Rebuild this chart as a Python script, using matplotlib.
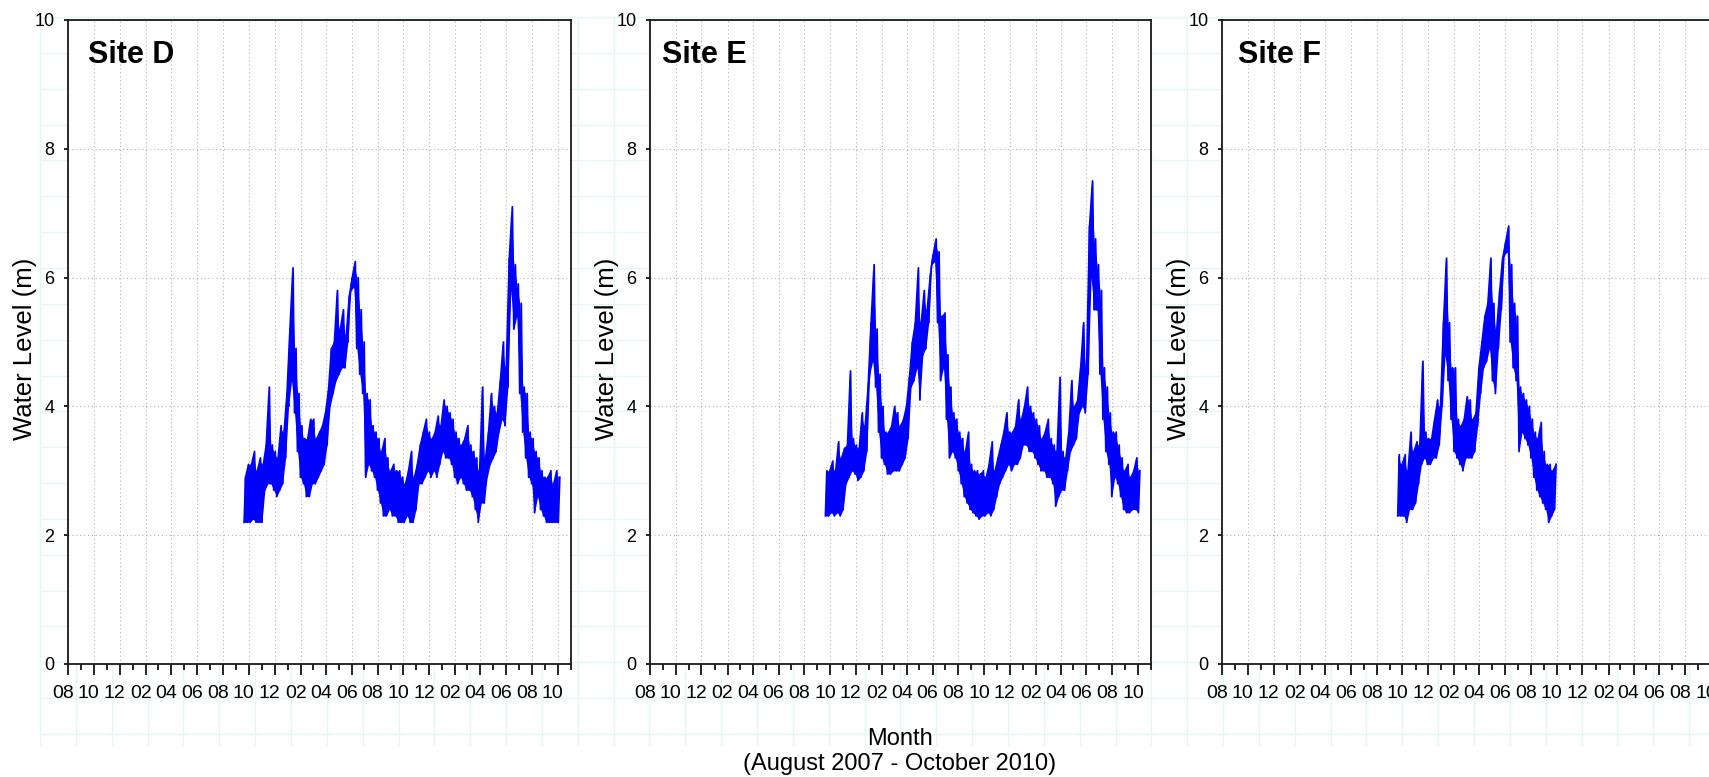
import numpy as np
import matplotlib
matplotlib.use("Agg")
import matplotlib.pyplot as plt
import matplotlib.dates as mdates
from matplotlib.lines import Line2D
from matplotlib.transforms import ScaledTranslation

plt.rcParams['font.family'] = ['Liberation Sans', 'DejaVu Sans']

# ---------------------------------------------------------------------------
# Data: weekly low / high water level (m) from the loggers, weeks start 2008-09-20
# ---------------------------------------------------------------------------
sites = ["Site D", "Site E", "Site F"]
series_start = np.datetime64("2008-09-20T00")

site_d_low = [2.2, 2.2, 2.2, 2.25, 2.2, 2.2, 2.2, 2.7, 2.8, 2.8,
              2.7, 2.6, 2.7, 2.8, 3.2, 4.0, 4.4, 3.9, 3.3, 2.9,
              2.8, 2.6, 2.6, 2.8, 2.8, 2.9, 3.0, 3.1, 3.4, 4.0,
              4.2, 4.4, 4.5, 4.6, 4.6, 5.0, 5.8, 5.85, 4.9, 4.5,
              4.2, 2.9, 3.1, 3.0, 2.9, 2.7, 2.5, 2.3, 2.3, 2.4,
              2.3, 2.3, 2.2, 2.2, 2.2, 2.3, 2.2, 2.2, 2.4, 2.8,
              2.8, 2.9, 3.0, 2.9, 3.0, 2.9, 3.1, 3.3, 3.2, 3.2,
              3.1, 2.9, 2.8, 2.9, 2.8, 2.7, 2.7, 2.6, 2.4, 2.2,
              2.5, 2.5, 2.9, 3.1, 3.2, 3.3, 3.6, 3.8, 3.7, 4.3,
              5.8, 5.2, 5.4, 4.2, 3.6, 3.2, 2.9, 2.8, 2.35, 2.6,
              2.4, 2.3, 2.2, 2.2, 2.2, 2.2, 2.2]
site_d_high = [2.9, 3.1, 3.1, 3.3, 3.0, 3.2, 3.1, 3.4, 4.3, 3.4,
               3.3, 3.2, 3.7, 3.6, 4.2, 5.2, 6.15, 4.9, 4.2, 3.7,
               3.5, 3.5, 3.8, 3.8, 3.5, 3.6, 3.7, 3.9, 4.25, 4.9,
               5.0, 5.8, 5.2, 5.5, 5.1, 5.7, 6.0, 6.25, 6.0, 5.5,
               5.0, 4.2, 4.1, 3.7, 3.6, 3.5, 3.3, 3.5, 3.2, 3.0,
               3.1, 3.0, 3.0, 2.9, 2.8, 3.0, 3.3, 2.9, 3.1, 3.4,
               3.6, 3.8, 3.6, 3.5, 3.6, 3.85, 3.7, 4.1, 4.0, 3.9,
               3.8, 3.6, 3.5, 3.4, 3.5, 3.7, 3.4, 3.3, 3.2, 3.0,
               4.3, 3.2, 3.6, 4.2, 4.0, 3.9, 4.4, 5.0, 4.6, 6.3,
               7.1, 6.2, 5.9, 5.6, 4.3, 4.2, 3.6, 3.5, 3.3, 3.2,
               3.0, 2.9, 2.9, 3.0, 2.8, 3.0, 2.9]

site_e_low = [2.3, 2.3, 2.35, 2.3, 2.35, 2.3, 2.4, 2.8, 2.9, 3.0,
              2.95, 2.85, 2.9, 3.0, 3.3, 4.5, 4.7, 4.3, 3.6, 3.2,
              3.1, 2.95, 2.95, 3.0, 3.0, 3.0, 3.1, 3.2, 3.5, 4.3,
              4.4, 4.6, 4.1, 4.8, 4.9, 5.3, 6.2, 6.25, 5.3, 4.4,
              4.6, 3.8, 3.2, 3.3, 3.2, 3.0, 2.8, 2.6, 2.5, 2.4,
              2.35, 2.3, 2.25, 2.3, 2.3, 2.35, 2.3, 2.4, 2.6, 2.8,
              2.9, 3.0, 3.1, 3.0, 3.1, 3.1, 3.2, 3.4, 3.4, 3.3,
              3.3, 3.2, 3.1, 3.0, 3.0, 2.9, 2.9, 2.8, 2.45, 2.6,
              2.7, 2.7, 3.0, 3.3, 3.4, 3.5, 3.9, 4.0, 3.9, 4.5,
              6.0, 5.5, 5.5, 4.5, 3.8, 3.3, 3.1, 2.6, 2.9, 2.8,
              2.6, 2.4, 2.35, 2.35, 2.4, 2.4, 2.35]
site_e_high = [3.0, 3.0, 3.15, 3.0, 3.45, 3.2, 3.35, 3.4, 4.55, 3.5,
               3.4, 3.35, 3.9, 3.7, 4.3, 5.3, 6.2, 5.2, 4.5, 4.0,
               3.6, 3.6, 3.7, 4.0, 3.9, 3.7, 3.8, 4.0, 4.45, 5.0,
               5.3, 6.15, 5.3, 5.8, 5.5, 6.0, 6.35, 6.6, 6.4, 5.4,
               5.45, 4.8, 4.3, 3.9, 3.8, 3.6, 3.5, 3.3, 3.6, 3.1,
               3.0, 3.0, 2.95, 3.0, 2.9, 3.1, 3.45, 3.0, 3.2, 3.4,
               3.6, 3.9, 3.6, 3.6, 3.7, 4.1, 3.8, 4.0, 4.3, 4.0,
               3.9, 3.8, 3.7, 3.5, 3.6, 3.8, 3.5, 3.4, 3.3, 4.45,
               3.3, 3.2, 3.6, 4.4, 4.0, 4.1, 4.6, 5.3, 4.6, 6.8,
               7.5, 6.6, 6.2, 5.8, 4.6, 4.3, 3.9, 3.6, 3.6, 3.4,
               3.2, 3.0, 3.1, 2.9, 3.0, 3.2, 3.0]

site_f_low = [2.3, 2.3, 2.3, 2.2, 2.4, 2.4, 2.5, 2.8, 3.1, 3.2,
              3.1, 3.1, 3.2, 3.2, 3.4, 4.0, 4.8, 4.4, 3.8, 3.3,
              3.2, 3.1, 3.0, 3.2, 3.2, 3.2, 3.3, 3.7, 4.2, 4.6,
              4.7, 4.9, 4.4, 4.2, 4.9, 5.5, 6.35, 6.4, 5.0, 4.6,
              4.4, 3.3, 3.6, 3.5, 3.4, 3.2, 2.9, 2.7, 2.6, 2.5,
              2.4, 2.2, 2.3, 2.4]
site_f_high = [3.25, 3.1, 3.25, 3.0, 3.6, 3.3, 3.45, 3.4, 4.7, 3.6,
               3.5, 3.5, 3.8, 4.1, 4.0, 5.3, 6.3, 5.3, 4.6, 4.6,
               3.8, 3.7, 3.8, 4.15, 4.1, 3.8, 3.9, 4.6, 5.0, 5.4,
               5.6, 6.3, 5.6, 5.2, 5.8, 6.3, 6.55, 6.8, 6.2, 5.6,
               5.4, 4.3, 4.2, 4.1, 4.0, 3.8, 3.6, 3.5, 3.75, 3.3,
               3.1, 3.1, 3.0, 3.1]

site_lows = [site_d_low, site_e_low, site_f_low]
site_highs = [site_d_high, site_e_high, site_f_high]

y_ticks = [0, 2, 4, 6, 8, 10]
x_start = np.datetime64("2007-08-01")
x_end = np.datetime64("2010-11-01")
y_label = "Water Level (m)"
x_label_lines = ["Month", "(August 2007 - October 2010)"]

# ---------------------------------------------------------------------------
W, H = 1709, 777
fig = plt.figure(figsize=(W / 100, H / 100), dpi=100)
fig.patch.set_facecolor("white")

# faint graph-paper background behind the panels
paper = "#e3f7f7"
step = 35.85
gx0, gy0, gy1 = 40, 17, 745
for i in range(60):
    x = gx0 + i * step
    if x > W:
        break
    fig.add_artist(Line2D([x / W, x / W], [1 - gy0 / H, 1 - gy1 / H],
                          transform=fig.transFigure, color=paper, lw=0.9, zorder=-5))
for j in range(30):
    y = gy0 + j * step
    if y > gy1:
        break
    fig.add_artist(Line2D([gx0 / W, 1.0], [1 - y / H, 1 - y / H],
                          transform=fig.transFigure, color=paper, lw=0.9, zorder=-5))

# panel placement in pixels: left, top, right, bottom
panel_px = [(68, 20, 571, 664), (650, 20, 1151, 664), (1222, 20, 1724, 664)]
title_dx = [20, 12, 16]
label_shift = ScaledTranslation(-5 / 100, 0, fig.dpi_scale_trans)
blue = "#0000ff"

for idx, (name, lo, hi) in enumerate(zip(sites, site_lows, site_highs)):
    l, t, r, b = panel_px[idx]
    ax = fig.add_axes([l / W, 1 - b / H, (r - l) / W, (b - t) / H])
    ax.set_facecolor("white")

    n = len(lo)
    week_start = series_start + np.arange(n) * np.timedelta64(7, "D")
    mid_week = week_start + np.timedelta64(84, "h")
    times = np.empty(2 * n, dtype="datetime64[h]")
    levels = np.empty(2 * n)
    times[0::2] = week_start
    times[1::2] = mid_week
    levels[0::2] = lo
    levels[1::2] = hi

    week_dt = week_start.astype("datetime64[s]").astype(object)
    # weekly range as a solid band, plus the low/high trace on top of it
    ax.fill_between(week_dt, lo, hi, color=blue, lw=0, zorder=3)
    ax.plot(times.astype("datetime64[s]").astype(object), levels,
            color=blue, lw=1.3, zorder=4)

    ax.set_xlim(x_start.astype(object), x_end.astype(object))
    ax.set_ylim(0, 10)

    ax.xaxis.set_major_locator(mdates.MonthLocator(bymonth=[2, 4, 6, 8, 10, 12]))
    ax.xaxis.set_minor_locator(mdates.MonthLocator())
    ax.xaxis.set_major_formatter(mdates.DateFormatter("%m"))
    ax.set_yticks(y_ticks)
    ax.set_yticklabels([str(v) for v in y_ticks])

    ax.tick_params(axis="x", which="major", direction="out", length=7.7, width=1.2,
                   pad=7.5, labelsize=14, colors="black")
    ax.tick_params(axis="x", which="minor", direction="out", length=4.2, width=1.2)
    ax.tick_params(axis="y", which="major", direction="out", length=3.2, width=1.2,
                   pad=6.5, labelsize=13)
    ax.tick_params(top=False, right=False, which="both")

    for lab in ax.xaxis.get_majorticklabels():
        lab.set_transform(lab.get_transform() + label_shift)

    ax.grid(True, which="major", axis="both", color="#b4b4b4", lw=0.8,
            linestyle=(0, (1, 2.5)))
    ax.set_axisbelow(True)
    for sp in ax.spines.values():
        sp.set_linewidth(1.3)
        sp.set_color("#1a1a1a")

    ax.set_ylabel(y_label, fontsize=18.5, labelpad=0)
    ax.yaxis.set_label_coords(-31 / (r - l), 0.49)

    ax.text(title_dx[idx] / (r - l), 1 - 43 / (b - t), name, transform=ax.transAxes,
            fontsize=22, fontweight="bold", ha="left", va="baseline")

fig.text(900 / W, 1 - 739 / H, x_label_lines[0], ha="center", va="center", fontsize=17)
fig.text(900 / W, 1 - 764 / H, x_label_lines[1], ha="center", va="center", fontsize=17)

fig.savefig("out.png", dpi=100, facecolor="white")
